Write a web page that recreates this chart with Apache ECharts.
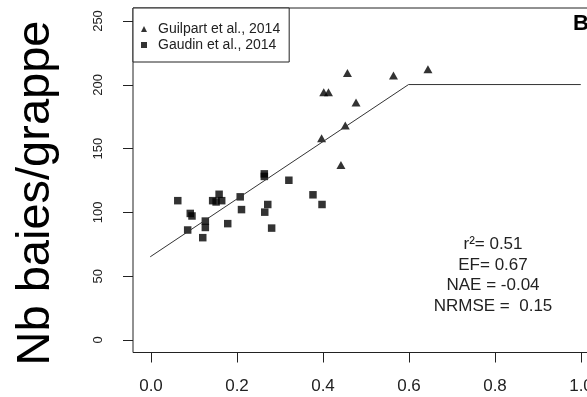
<!DOCTYPE html>
<html lang="fr">
<head>
    <meta charset="UTF-8">
    <title>Nb baies/grappe</title>
    <script src="https://cdn.jsdelivr.net/npm/echarts@6/dist/echarts.min.js"></script>
    <style>
        html, body { margin: 0; padding: 0; background: #fff; }
    </style>
</head>
<body>
<div id="main" style="width:587px; height:397px;"></div>
<script type="text/javascript">

    // Guilpart et al., 2014 (triangles)
    const guilpartX = [0.458, 0.565, 0.645, 0.403, 0.414, 0.478, 0.453, 0.398, 0.443];
    const guilpartY = [209, 207, 212, 194, 194, 186, 168, 158, 137];

    // Gaudin et al., 2014 (carres)
    const gaudinX = [0.064, 0.093, 0.097, 0.087, 0.122, 0.128, 0.128, 0.145, 0.153, 0.160, 0.166,
                     0.180, 0.209, 0.212, 0.265, 0.265, 0.273, 0.266, 0.282, 0.322, 0.378, 0.399];
    const gaudinY = [109, 99, 97, 86, 80, 93, 88, 109, 108, 114, 109,
                     91, 112, 102, 130, 128, 106, 100, 87.5, 125, 113.6, 106];

    // modele (plateau)
    const modelX = [0, 0.6, 1.0];
    const modelY = [65, 200, 200];

    const xTicks = [0, 0.2, 0.4, 0.6, 0.8, 1.0];
    const yTicks = [0, 50, 100, 150, 200, 250];

    const statLines = ['r²= 0.51', 'EF= 0.67', 'NAE = -0.04', 'NRMSE =  0.15'];

    const font = 'Liberation Sans, Arial, sans-serif';
    const ink = '#222';

    const zip = (xs, ys) => xs.map((x, i) => [x, ys[i]]);

    // axe cache (pour completer une grille qui ne sert qu'aux graduations)
    const hidden = (gridIndex) => ({
        gridIndex: gridIndex, type: 'value', show: false, min: 0, max: 1
    });

    let myChart = echarts.init(document.getElementById('main'));

    let option = {
        backgroundColor: '#fff',
        animation: false,
        textStyle: { fontFamily: font, color: ink },
        grid: [
            // cadre du graphe (domaine etendu de 4 % comme R)
            { left: 133, top: 8, width: 465, height: 344.5, show: true, borderColor: ink, borderWidth: 1,
              backgroundColor: 'transparent', containLabel: false, outerBoundsMode: 'none' },
            // graduations de l'axe x (bas du cadre)
            { left: 151, top: 8, width: 430, height: 344.5, containLabel: false, outerBoundsMode: 'none' },
            // graduations de l'axe y (gauche du cadre)
            { left: 133, top: 21, width: 465, height: 319, containLabel: false, outerBoundsMode: 'none' }
        ],
        xAxis: [
            { gridIndex: 0, type: 'value', min: -0.04, max: 1.04,
              axisLine: { show: false }, axisTick: { show: false }, axisLabel: { show: false }, splitLine: { show: false } },
            { gridIndex: 1, type: 'value', min: xTicks[0], max: xTicks[xTicks.length - 1], interval: 0.2,
              position: 'bottom',
              axisLine: { show: false },
              axisTick: { show: true, length: 10, lineStyle: { color: ink, width: 1 } },
              axisLabel: { fontSize: 17, color: ink, margin: 25, formatter: v => v.toFixed(1) },
              splitLine: { show: false } },
            hidden(2)
        ],
        yAxis: [
            { gridIndex: 0, type: 'value', min: -10, max: 260,
              axisLine: { show: false }, axisTick: { show: false }, axisLabel: { show: false }, splitLine: { show: false } },
            hidden(1),
            { gridIndex: 2, type: 'value', min: yTicks[0], max: yTicks[yTicks.length - 1], interval: 50,
              position: 'left',
              axisLine: { show: false },
              axisTick: { show: true, length: 10, lineStyle: { color: ink, width: 1 } },
              axisLabel: { fontSize: 13, color: ink, rotate: 90, margin: 28 },
              splitLine: { show: false } }
        ],
        legend: {
            left: 133, top: 8, orient: 'vertical',
            padding: [14, 9, 10, 8], itemGap: 2,
            itemWidth: 6, itemHeight: 6, itemStyle: { color: '#000' },
            borderColor: ink, borderWidth: 1, borderRadius: 0, backgroundColor: '#fff',
            textStyle: { fontSize: 14, color: ink, fontFamily: font, padding: [0, 0, 0, 6] },
            data: [
                { name: 'Guilpart et al., 2014', icon: 'triangle' },
                { name: 'Gaudin et al., 2014', icon: 'rect' }
            ]
        },
        graphic: [
            { type: 'text', x: 36, y: 193, rotation: Math.PI / 2, z: 10,
              style: { text: 'Nb baies/grappe', align: 'center', verticalAlign: 'middle',
                       fontSize: 47, fontFamily: font, fill: '#000' } },
            { type: 'text', x: 493, y: 234, z: 10,
              style: { text: statLines.join('\n'), align: 'center', fontSize: 17, lineHeight: 20.7,
                       fontFamily: font, fill: ink } },
            { type: 'text', x: 573, y: 13, z: 10,
              style: { text: 'B', fontSize: 22, fontWeight: 'bold', fontFamily: font, fill: '#000' } }
        ],
        series: [
            { name: 'model', type: 'line', xAxisIndex: 0, yAxisIndex: 0,
              data: zip(modelX, modelY), showSymbol: false, silent: true,
              lineStyle: { color: '#333', width: 1 } },
            { name: 'Guilpart et al., 2014', type: 'scatter', xAxisIndex: 0, yAxisIndex: 0,
              data: zip(guilpartX, guilpartY), symbol: 'triangle', symbolSize: [9, 8],
              itemStyle: { color: '#000' } },
            { name: 'Gaudin et al., 2014', type: 'scatter', xAxisIndex: 0, yAxisIndex: 0,
              data: zip(gaudinX, gaudinY), symbol: 'rect', symbolSize: 7.5,
              itemStyle: { color: '#000' } }
        ]
    };

    myChart.setOption(option);
</script>
</body>
</html>
